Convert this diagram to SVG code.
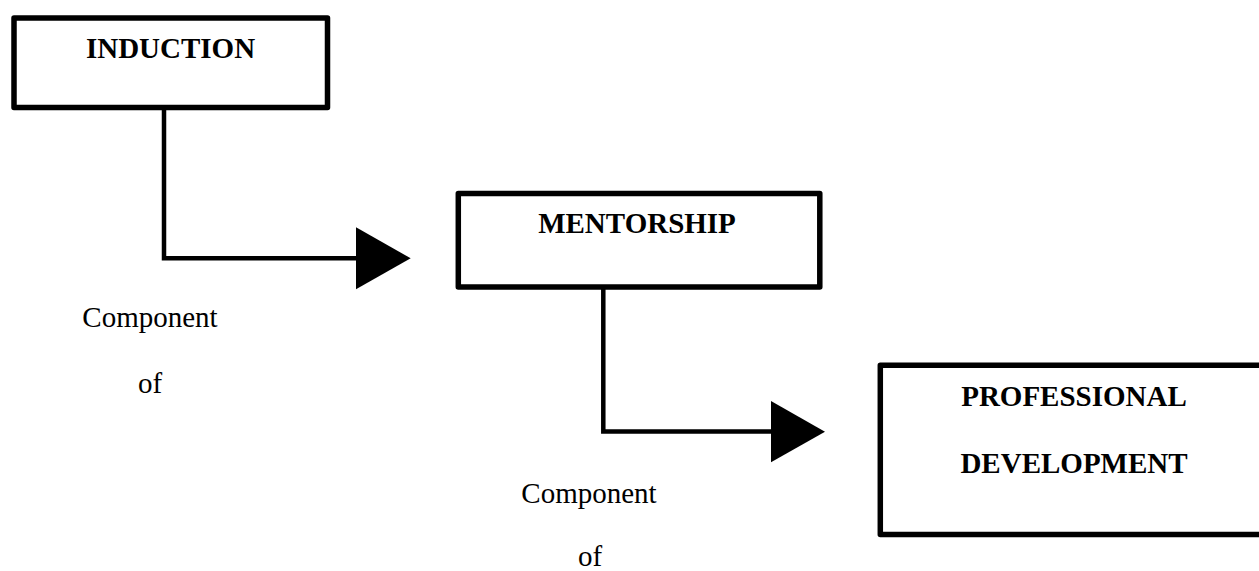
<svg xmlns="http://www.w3.org/2000/svg" width="1259" height="571" viewBox="0 0 1259 571">
  <style>
    .box { fill: #ffffff; stroke: #000000; stroke-width: 5.5; stroke-linejoin: round; }
    .title { font-family: "Liberation Serif", "Times New Roman", serif; font-size: 29px; font-weight: bold; fill: #000000; text-anchor: middle; }
    .label { font-family: "Liberation Serif", "Times New Roman", serif; font-size: 29px; fill: #000000; text-anchor: middle; }
    .wire { fill: none; stroke: #000000; stroke-width: 4.5; }
    .head { fill: #000000; stroke: none; }
  </style>
  <rect width="1259" height="571" fill="#ffffff"/>

  <g id="connectors">
    <path class="wire" d="M164 108 V258.3 H360"/>
    <polygon class="head" points="356,227.3 410.7,258.3 356,289.3"/>
    <path class="wire" d="M603.3 287 V431.5 H775"/>
    <polygon class="head" points="771,401 825,431.7 771,462.3"/>
    <text class="label" x="150" y="326.7">Component</text>
    <text class="label" x="150" y="393.3">of</text>
    <text class="label" x="589" y="503.3">Component</text>
    <text class="label" x="590" y="566">of</text>
  </g>

  <g id="induction">
    <rect class="box" x="14" y="18" width="313.5" height="89.5"/>
    <text class="title" x="170.5" y="58">INDUCTION</text>
  </g>

  <g id="mentorship">
    <rect class="box" x="458.3" y="193.5" width="361.5" height="93.5"/>
    <text class="title" x="637" y="233.3">MENTORSHIP</text>
  </g>

  <g id="professional-development">
    <rect class="box" x="880.3" y="365.3" width="390" height="169.2"/>
    <text class="title" x="1074" y="406">PROFESSIONAL</text>
    <text class="title" x="1074" y="472.7">DEVELOPMENT</text>
  </g>
</svg>
